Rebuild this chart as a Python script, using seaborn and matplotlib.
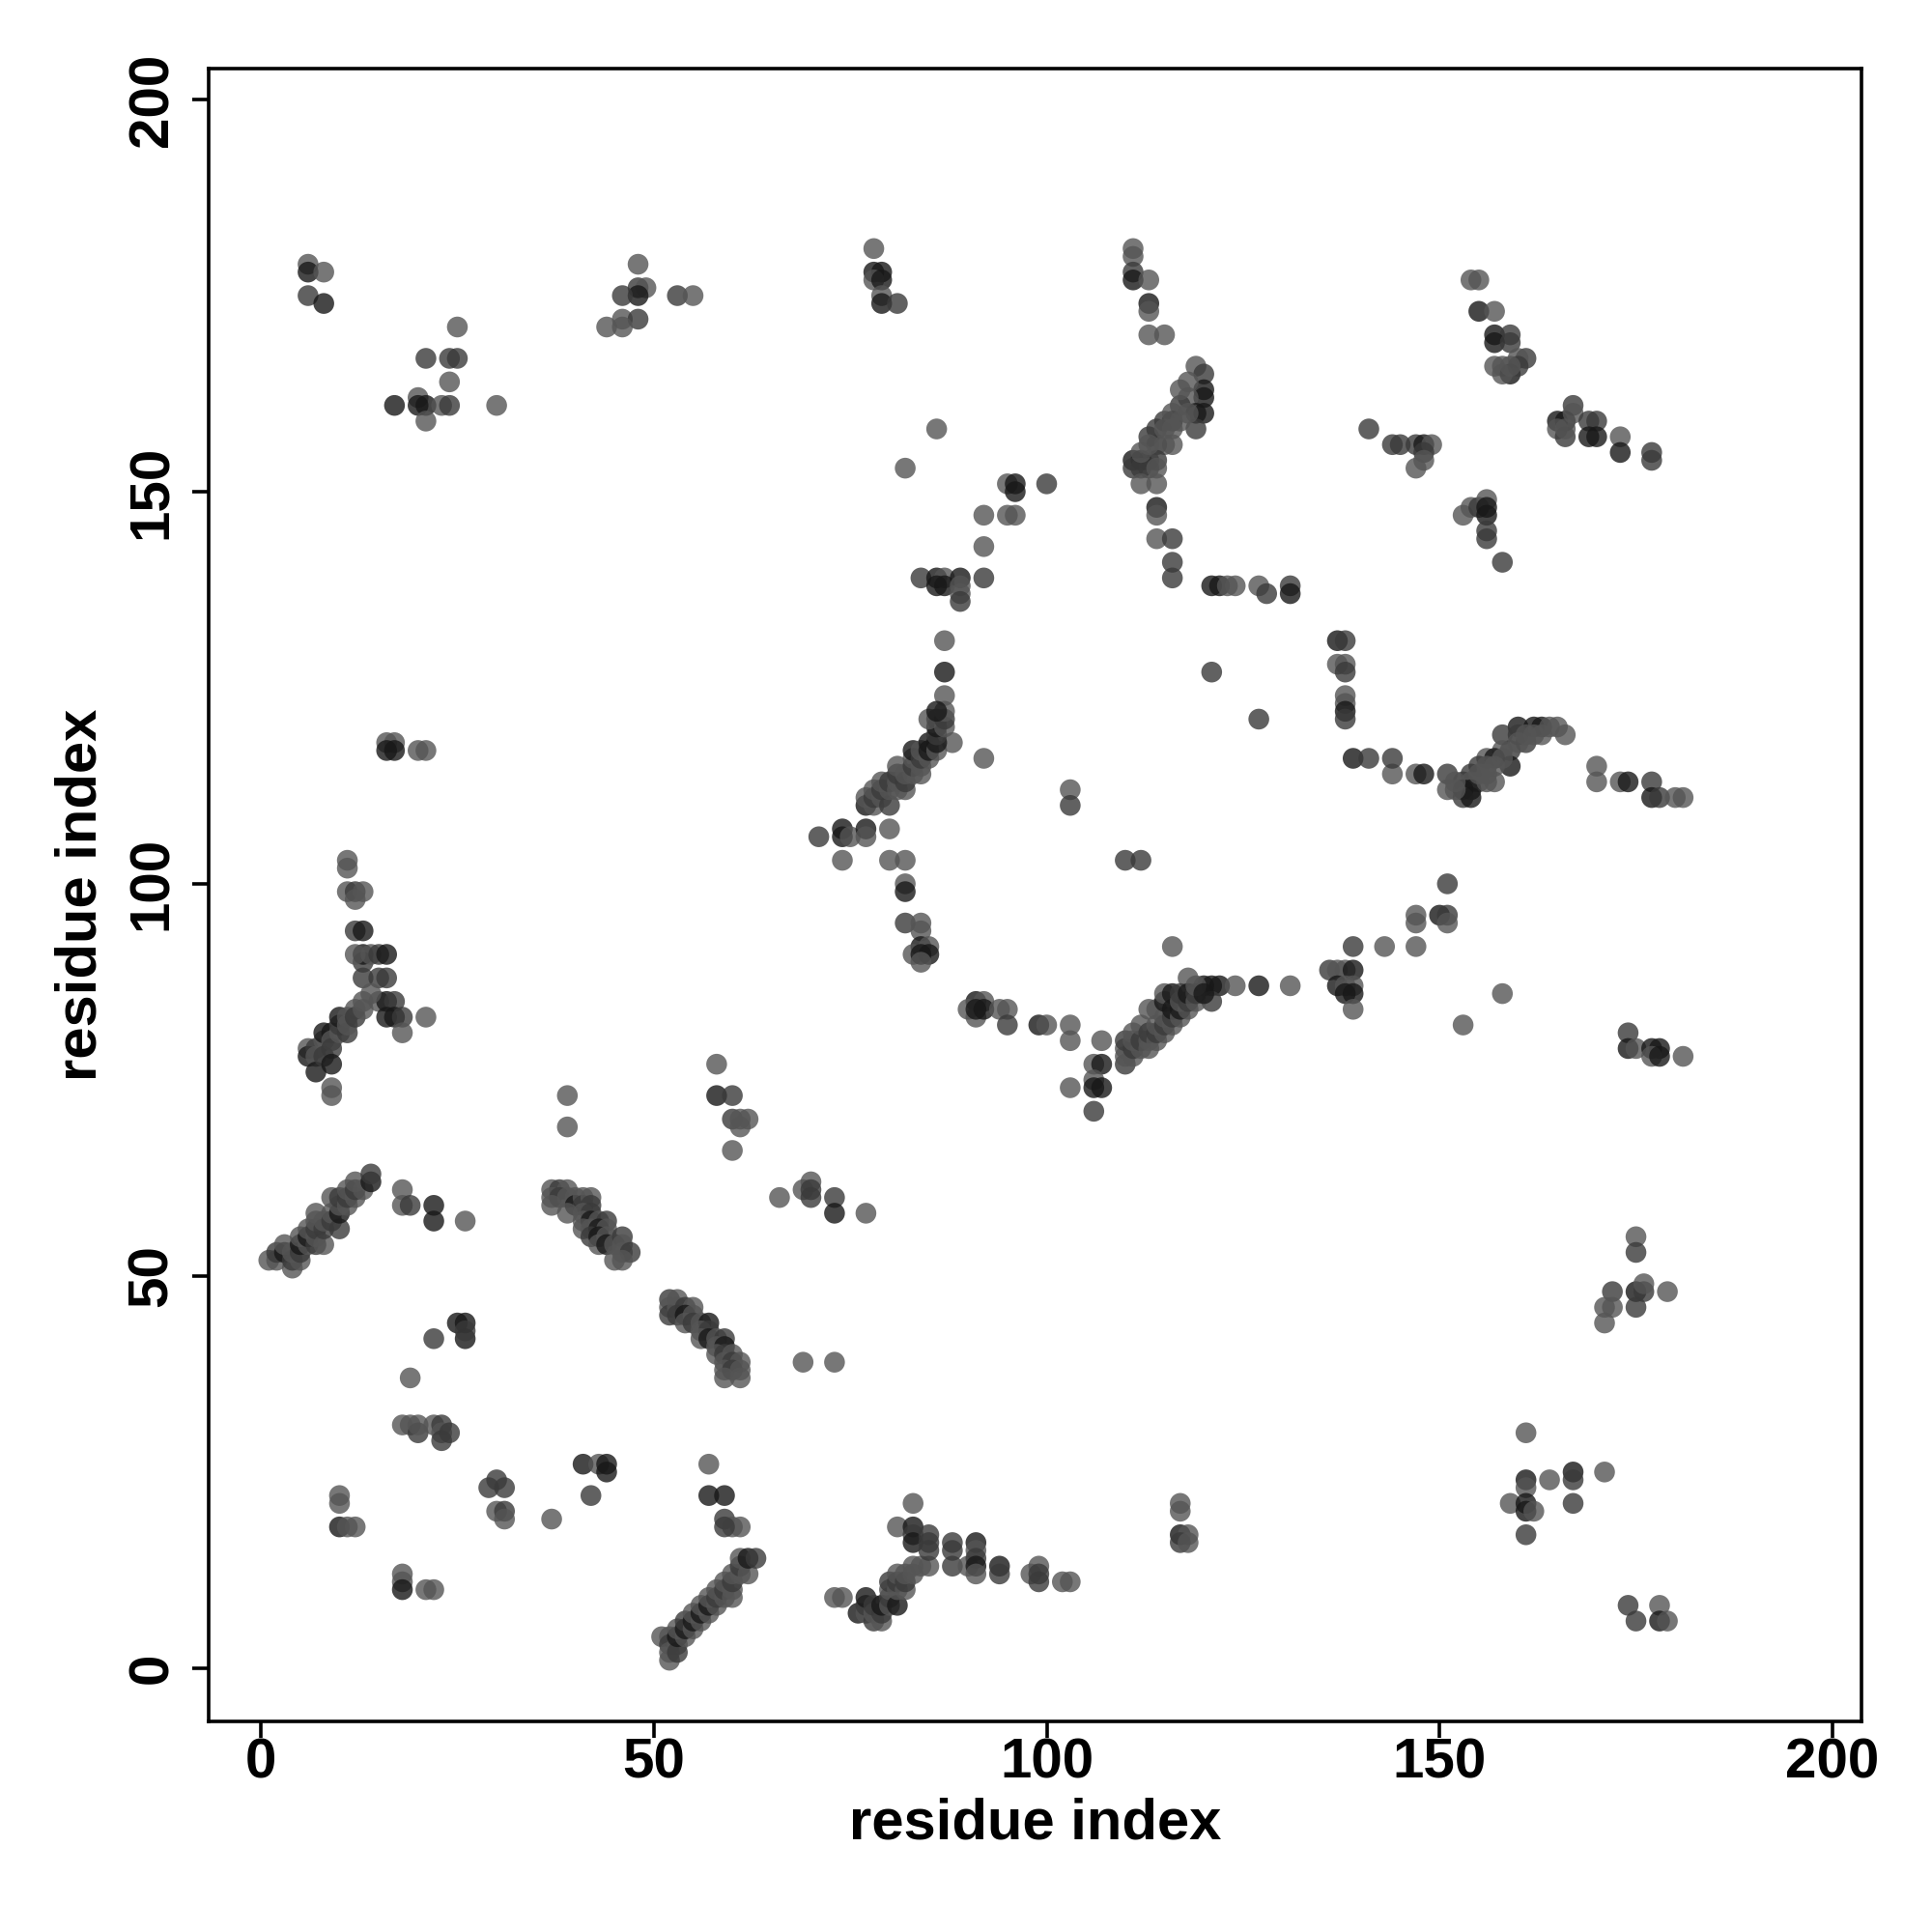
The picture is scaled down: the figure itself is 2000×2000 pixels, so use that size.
import matplotlib
matplotlib.use("Agg")
import matplotlib.pyplot as plt
import seaborn as sns
import pandas as pd

# contacts (i, j, shade): shade 1 = light, 2 = medium, 3 = dark
top_left = [(6, 179, 1), (6, 178, 3), (8, 178, 1), (6, 175, 2), (8, 174, 3)]
top_b = [(25, 171, 1), (21, 167, 2), (24, 167, 2), (25, 167, 2), (24, 164, 1), (17, 161, 3),
         (20, 162, 1), (20, 161, 3), (21, 161, 3), (23, 161, 1), (24, 161, 2), (21, 159, 1),
         (30, 161, 1)]
top_c = [(48, 179, 1), (48, 176, 2), (49, 176, 1), (48, 175, 3), (46, 175, 2), (53, 175, 2),
         (55, 175, 1), (46, 172, 1), (48, 172, 2), (44, 171, 1), (46, 171, 1)]
top_d = [(78, 181, 1), (78, 178, 3), (79, 178, 3), (78, 177, 1), (79, 177, 3), (79, 175, 1),
         (79, 174, 3), (81, 174, 2)]
strand_e = [(111, 181, 1), (111, 180, 1), (111, 178, 2), (111, 177, 3), (113, 177, 1),
            (113, 174, 3), (113, 173, 1), (113, 170, 1), (115, 170, 1), (119, 166, 1),
            (120, 165, 2), (120, 163, 3), (120, 162, 3), (118, 162, 1), (119, 160, 3),
            (120, 160, 3), (119, 158, 2), (117, 161, 2), (116, 159, 3), (115, 159, 2),
            (116, 156, 1), (114, 158, 2), (113, 157, 2), (114, 156, 2), (115, 156, 1),
            (113, 154, 1), (114, 154, 2), (111, 154, 3), (112, 154, 3), (111, 153, 2),
            (112, 153, 2), (113, 153, 2), (114, 153, 1), (112, 151, 1), (114, 151, 1),
            (114, 148, 3), (114, 147, 1), (114, 144, 1), (116, 144, 2), (116, 141, 2),
            (116, 139, 2), (118, 164, 1), (117, 163, 1), (116, 160, 1), (115, 158, 1),
            (113, 156, 1), (112, 155, 1), (116, 158, 1), (117, 159, 1), (118, 160, 1)]
row_f = [(121, 138, 3), (122, 138, 3), (123, 138, 1), (124, 138, 1), (127, 138, 1),
         (128, 137, 2), (131, 138, 2), (131, 137, 3)]
mid_g = [(86, 158, 1), (82, 153, 1), (95, 151, 1), (96, 151, 3), (96, 150, 3), (100, 151, 2),
         (92, 147, 1), (95, 147, 1), (96, 147, 1), (92, 143, 1), (84, 139, 2), (86, 139, 3),
         (87, 139, 1), (89, 139, 3), (86, 138, 3), (87, 138, 3), (89, 138, 1), (89, 137, 1),
         (89, 136, 2), (92, 139, 2), (87, 131, 1), (87, 127, 3), (87, 124, 1), (121, 127, 2)]
top_h = [(154, 177, 1), (155, 177, 1), (155, 173, 3), (157, 173, 1), (157, 170, 3),
         (159, 170, 2), (157, 169, 3), (159, 169, 2), (161, 167, 2), (160, 167, 1),
         (157, 166, 1), (158, 166, 1), (159, 165, 3), (158, 165, 1), (160, 166, 2),
         (159, 166, 1)]
top_i = [(167, 161, 2), (165, 159, 3), (166, 159, 3), (167, 160, 1), (165, 158, 1),
         (166, 157, 2), (169, 159, 2), (170, 159, 2), (169, 157, 3), (170, 157, 3),
         (173, 157, 1), (173, 155, 3), (177, 155, 2), (177, 154, 2), (166, 158, 1)]
top_j = [(141, 158, 2), (144, 156, 2), (145, 156, 2), (147, 156, 2), (148, 156, 3),
         (149, 156, 1), (148, 155, 2), (147, 153, 1), (148, 154, 1)]
top_k = [(153, 147, 1), (154, 148, 1), (155, 148, 2), (156, 149, 1), (156, 148, 3),
         (156, 147, 3), (156, 145, 2), (156, 144, 2), (158, 141, 2)]
col_l = [(137, 131, 3), (138, 131, 2), (137, 128, 1), (138, 128, 1), (138, 127, 2),
         (138, 124, 1), (138, 123, 1), (138, 122, 3), (138, 121, 2), (127, 121, 2)]
strand_m = [(160, 120, 3), (162, 120, 3), (163, 120, 3), (165, 120, 1), (166, 119, 1),
            (158, 119, 2), (160, 119, 2), (161, 118, 2), (159, 117, 2), (158, 117, 1),
            (156, 116, 1), (157, 116, 3), (159, 115, 3), (155, 115, 2), (154, 114, 2),
            (155, 113, 1), (153, 113, 2), (154, 113, 1), (151, 114, 2), (151, 112, 1),
            (153, 112, 3), (154, 112, 3), (153, 111, 2), (154, 111, 3), (157, 113, 1),
            (156, 113, 1), (147, 114, 1), (148, 114, 3), (144, 114, 1), (144, 116, 2),
            (139, 116, 3), (141, 116, 2), (170, 115, 1), (170, 113, 1), (173, 113, 1),
            (174, 113, 3), (177, 113, 2), (177, 111, 3), (178, 111, 2), (180, 111, 1),
            (181, 111, 1), (157, 115, 1), (158, 116, 1), (156, 114, 1), (155, 114, 1),
            (152, 113, 1), (152, 112, 1), (160, 118, 1), (161, 119, 1), (162, 119, 1),
            (164, 120, 1), (163, 119, 1), (156, 115, 1)]
mid_n = [(151, 100, 2), (147, 96, 1), (147, 95, 1), (150, 96, 3), (151, 96, 2), (151, 95, 1)]
mid_o = [(139, 92, 2), (143, 92, 1), (147, 92, 1), (136, 89, 2), (137, 89, 1), (138, 89, 1),
         (139, 89, 3), (137, 87, 3), (138, 87, 1), (139, 87, 1), (138, 86, 3), (139, 86, 3),
         (139, 84, 1), (153, 82, 1), (158, 86, 1)]
mid_p = [(174, 81, 2), (174, 79, 3), (175, 79, 1), (177, 79, 3), (178, 79, 3), (177, 78, 1),
         (178, 78, 3), (181, 78, 1)]
strand_q = [(120, 87, 3), (121, 87, 3), (122, 87, 3), (121, 85, 2), (124, 87, 1), (127, 87, 3),
            (131, 87, 1), (118, 88, 1), (116, 92, 1), (110, 77, 2), (110, 78, 1), (110, 79, 1),
            (110, 80, 2), (111, 78, 1), (111, 79, 2), (111, 80, 1), (111, 81, 1), (112, 79, 1),
            (112, 80, 2), (112, 82, 1), (113, 79, 1), (113, 80, 1), (113, 81, 2), (113, 84, 1),
            (114, 80, 1), (114, 81, 2), (114, 82, 1), (114, 84, 1), (115, 81, 1), (115, 82, 2),
            (115, 83, 1), (115, 85, 3), (115, 86, 1), (116, 82, 1), (116, 83, 2), (116, 84, 3),
            (116, 86, 3), (117, 83, 1), (117, 84, 3), (117, 85, 1), (117, 86, 2), (118, 84, 1),
            (118, 85, 2), (118, 86, 3), (119, 85, 1), (119, 86, 2), (119, 87, 1), (120, 86, 3)]
mid_r = [(91, 85, 3), (92, 85, 1), (90, 84, 1), (91, 83, 1), (91, 84, 3), (92, 84, 3),
         (94, 84, 1), (95, 84, 1), (95, 82, 2), (99, 82, 3), (100, 82, 1), (103, 82, 1),
         (103, 80, 1), (107, 80, 1), (106, 77, 1), (107, 77, 3), (106, 75, 1), (106, 74, 3),
         (107, 74, 3), (103, 74, 1), (106, 71, 2)]
strand_s = [(88, 118, 1), (92, 116, 1), (74, 107, 3), (74, 106, 3), (71, 106, 2), (75, 106, 1),
            (77, 107, 3), (77, 106, 1), (80, 107, 1), (74, 103, 1), (80, 103, 1), (82, 103, 1),
            (82, 100, 1), (82, 99, 3), (82, 95, 2), (84, 95, 1), (84, 94, 1), (84, 92, 3),
            (85, 92, 1), (83, 91, 1), (84, 91, 3), (85, 91, 3), (84, 90, 1), (103, 112, 1),
            (103, 110, 2), (110, 103, 2), (112, 103, 2), (77, 110, 3), (77, 111, 1),
            (78, 110, 1), (78, 111, 2), (78, 112, 1), (79, 111, 1), (79, 112, 2), (79, 113, 1),
            (80, 110, 2), (80, 112, 1), (80, 113, 2), (81, 112, 1), (81, 113, 1), (81, 114, 2),
            (81, 115, 1), (82, 112, 1), (82, 113, 2), (82, 114, 1), (83, 114, 1), (83, 115, 2),
            (83, 116, 1), (83, 117, 3), (84, 114, 1), (84, 115, 1), (84, 116, 2), (84, 117, 1),
            (85, 116, 1), (85, 117, 3), (85, 118, 3), (86, 117, 1), (86, 118, 3), (86, 119, 2),
            (86, 120, 3), (86, 121, 3), (85, 121, 1), (87, 120, 1), (87, 121, 2), (87, 122, 1),
            (86, 122, 3)]
strand_t = [(6, 79, 1), (6, 78, 3), (7, 79, 2), (7, 78, 1), (7, 76, 3), (8, 80, 1), (8, 81, 3),
            (8, 78, 2), (9, 81, 3), (9, 80, 1), (9, 79, 2), (9, 77, 3), (10, 81, 1), (10, 82, 2),
            (10, 83, 3), (11, 83, 1), (11, 81, 2), (11, 82, 1), (12, 84, 1), (12, 83, 2),
            (13, 84, 1), (13, 85, 1), (13, 88, 2), (13, 90, 2), (13, 91, 3), (12, 91, 1),
            (14, 91, 1), (15, 91, 2), (16, 91, 3), (15, 88, 2), (16, 88, 2), (15, 85, 1),
            (16, 85, 3), (17, 85, 2), (16, 83, 3), (17, 83, 3), (18, 83, 2), (18, 81, 1),
            (21, 83, 1), (12, 94, 2), (13, 94, 3), (11, 99, 1), (12, 99, 2), (13, 99, 1),
            (12, 98, 1), (11, 103, 1), (11, 102, 1), (9, 74, 1), (9, 73, 1), (14, 86, 1)]
row_u = [(16, 118, 1), (17, 118, 1), (16, 117, 3), (17, 117, 3), (20, 117, 1), (21, 117, 1)]
misc_v = [(39, 73, 1), (39, 69, 1), (58, 77, 1), (58, 73, 3), (60, 73, 2), (60, 70, 2),
          (61, 70, 1), (62, 70, 1), (61, 69, 1), (60, 66, 1), (66, 60, 1), (69, 61, 1),
          (70, 62, 1), (70, 61, 2), (70, 60, 2), (73, 60, 2), (73, 58, 3), (77, 58, 1)]
strand_w = [(18, 61, 1), (18, 59, 1), (19, 59, 2), (22, 59, 3), (22, 57, 3), (26, 57, 1),
            (1, 52, 1), (2, 52, 1), (2, 53, 2), (3, 53, 3), (3, 54, 1), (4, 51, 1), (4, 52, 2),
            (4, 53, 1), (5, 52, 1), (5, 53, 2), (5, 54, 3), (5, 55, 1), (6, 54, 1), (6, 55, 3),
            (6, 56, 1), (7, 54, 2), (7, 55, 1), (7, 56, 2), (7, 57, 1), (7, 58, 1), (8, 54, 1),
            (8, 56, 2), (8, 57, 1), (9, 57, 2), (9, 58, 1), (9, 60, 1), (10, 56, 2), (10, 58, 3),
            (10, 59, 1), (10, 60, 2), (11, 59, 1), (11, 60, 2), (11, 61, 1), (12, 60, 1),
            (12, 61, 2), (12, 62, 1), (13, 61, 1), (14, 62, 3), (14, 63, 2)]
strand_x = [(37, 61, 1), (38, 61, 2), (39, 61, 1), (37, 60, 1), (38, 60, 2), (39, 60, 1),
            (37, 59, 1), (40, 60, 1), (40, 59, 3), (41, 60, 1), (41, 59, 2), (42, 60, 1),
            (42, 59, 2), (39, 58, 1), (41, 58, 1), (42, 58, 2), (41, 57, 1), (42, 57, 3),
            (43, 57, 1), (44, 57, 2), (41, 56, 1), (42, 56, 1), (43, 56, 3), (44, 56, 1),
            (42, 55, 2), (43, 55, 3), (44, 55, 1), (43, 54, 1), (44, 54, 3), (45, 54, 1),
            (46, 55, 2), (46, 54, 1), (46, 53, 1), (47, 53, 2), (45, 52, 1), (46, 52, 1)]
strand_y = [(52, 47, 2), (53, 47, 1), (52, 46, 1), (52, 45, 2), (53, 46, 1), (53, 45, 2),
            (54, 46, 2), (55, 46, 1), (54, 45, 3), (55, 45, 1), (54, 44, 1), (55, 44, 2),
            (56, 44, 1), (57, 44, 3), (56, 43, 1), (57, 43, 2), (56, 42, 1), (57, 42, 3),
            (58, 42, 1), (59, 42, 2), (58, 41, 1), (59, 41, 3), (58, 40, 1), (59, 40, 2),
            (60, 40, 1), (59, 39, 1), (60, 39, 2), (61, 39, 1), (59, 38, 1), (60, 38, 2),
            (61, 38, 1), (59, 37, 1), (61, 37, 1), (69, 39, 1), (73, 39, 1)]
misc_z = [(25, 44, 3), (26, 44, 3), (26, 42, 3), (26, 43, 2), (22, 42, 2), (19, 37, 1),
          (18, 31, 1), (19, 31, 1), (20, 30, 2), (20, 31, 1), (22, 31, 1), (23, 31, 2),
          (23, 30, 1), (24, 30, 2), (23, 29, 2), (10, 22, 1), (10, 21, 1), (10, 18, 3),
          (11, 18, 1), (12, 18, 1), (18, 12, 1), (18, 11, 1), (18, 10, 3), (21, 10, 1),
          (22, 10, 1), (29, 23, 2), (30, 24, 2), (31, 23, 2), (30, 20, 1), (31, 20, 2),
          (31, 19, 1), (37, 19, 1), (41, 26, 3), (43, 26, 1), (44, 26, 3), (44, 25, 3),
          (42, 22, 2), (57, 26, 1), (57, 22, 3), (59, 22, 3), (59, 19, 2), (60, 18, 1),
          (61, 18, 1), (59, 18, 2)]
strand_aa = [(51, 4, 1), (52, 4, 1), (52, 3, 2), (52, 2, 1), (52, 1, 1), (53, 3, 1), (53, 2, 2),
             (53, 4, 3), (53, 5, 1), (54, 4, 1), (54, 5, 3), (54, 6, 2), (55, 5, 1), (55, 6, 3),
             (55, 7, 1), (56, 6, 1), (56, 7, 3), (56, 8, 1), (57, 7, 1), (57, 8, 3), (57, 9, 1),
             (58, 8, 1), (58, 9, 2), (58, 10, 1), (59, 9, 1), (59, 10, 2), (59, 11, 1),
             (60, 9, 1), (60, 10, 1), (60, 11, 2), (60, 12, 1), (61, 12, 1), (61, 13, 2),
             (61, 14, 1), (62, 12, 1), (62, 14, 3), (63, 14, 2)]
strand_ab = [(76, 7, 3), (77, 7, 1), (77, 8, 2), (77, 9, 3), (78, 6, 2), (78, 7, 1), (78, 8, 2),
             (79, 6, 1), (79, 7, 2), (79, 8, 3), (80, 8, 1), (80, 9, 2), (80, 10, 1),
             (80, 11, 2), (81, 8, 3), (81, 10, 1), (81, 11, 2), (81, 12, 1), (82, 10, 1),
             (82, 11, 2), (82, 12, 1), (83, 12, 1), (83, 13, 1), (84, 13, 1), (85, 13, 1),
             (73, 9, 1), (74, 9, 1)]
misc_ac = [(83, 21, 1), (81, 18, 1), (83, 18, 3), (83, 17, 2), (83, 16, 3), (85, 17, 2),
           (85, 16, 2), (85, 15, 2), (88, 16, 2), (88, 15, 2), (88, 13, 2), (90, 13, 1),
           (91, 16, 3), (91, 15, 1), (91, 14, 2), (91, 13, 3), (91, 12, 1), (94, 13, 3),
           (94, 12, 2), (98, 12, 1), (99, 13, 1), (99, 12, 2), (99, 11, 2), (102, 11, 1),
           (103, 11, 1), (117, 21, 1), (117, 20, 1), (117, 17, 3), (118, 17, 1),
           (117, 16, 2), (118, 16, 1)]
misc_ad = [(175, 55, 1), (175, 53, 2), (172, 48, 2), (175, 48, 3), (176, 48, 2), (176, 49, 1),
           (179, 48, 1), (171, 46, 1), (172, 46, 1), (175, 46, 2), (171, 44, 1), (161, 30, 1),
           (161, 24, 3), (161, 23, 1), (164, 24, 1), (167, 25, 3), (167, 24, 2), (171, 25, 1),
           (159, 21, 1), (161, 21, 3), (161, 20, 3), (162, 20, 1), (167, 21, 2), (161, 17, 2),
           (174, 8, 2), (175, 6, 2), (178, 8, 1), (178, 6, 3), (179, 6, 1)]

groups = [top_left, top_b, top_c, top_d, strand_e, row_f, mid_g, top_h, top_i, top_j, top_k,
          col_l, strand_m, mid_n, mid_o, mid_p, strand_q, mid_r, strand_s, strand_t, row_u,
          misc_v, strand_w, strand_x, strand_y, misc_z, strand_aa, strand_ab, misc_ac, misc_ad]

df = pd.DataFrame([p for g in groups for p in g], columns=["i", "j", "shade"])

sns.set_theme(style="white")
plt.rcParams['font.family'] = ['Liberation Sans', 'DejaVu Sans']
plt.rcParams['text.color'] = 'black'
plt.rcParams['axes.labelcolor'] = 'black'
plt.rcParams['xtick.color'] = 'black'
plt.rcParams['ytick.color'] = 'black'

fig = plt.figure(figsize=(10, 10), dpi=200)
ax = fig.add_axes([0.1078, 0.109, 0.8557, 0.8553])

shades = {1: "#555555", 2: "#3a3a3a", 3: "#181818"}
sns.scatterplot(data=df, x="i", y="j", hue="shade", palette=shades, s=60,
                alpha=0.8, linewidth=0, legend=False, ax=ax)

ax.set_xlim(-6.7, 203.7)
ax.set_ylim(-6.8, 203.9)
ticks = [0, 50, 100, 150, 200]
ax.set_xticks(ticks)
ax.set_yticks(ticks)
ax.set_xticklabels([str(t) for t in ticks], fontsize=21, fontweight="bold")
ax.set_yticklabels([str(t) for t in ticks], fontsize=21, fontweight="bold",
                   rotation=90, va="center")
ax.tick_params(axis="both", direction="out", length=6, width=1.3, color="black",
               labelcolor="black", bottom=True, left=True)
ax.tick_params(axis="x", pad=0)
ax.tick_params(axis="y", pad=5)
for sp in ax.spines.values():
    sp.set_color("black")
    sp.set_linewidth(1.3)

ax.set_xlabel("residue index", fontsize=21.5, fontweight="bold", labelpad=3)
ax.set_ylabel("residue index", fontsize=21.5, fontweight="bold", labelpad=7)

fig.savefig("out.png", dpi=200, facecolor="white")
